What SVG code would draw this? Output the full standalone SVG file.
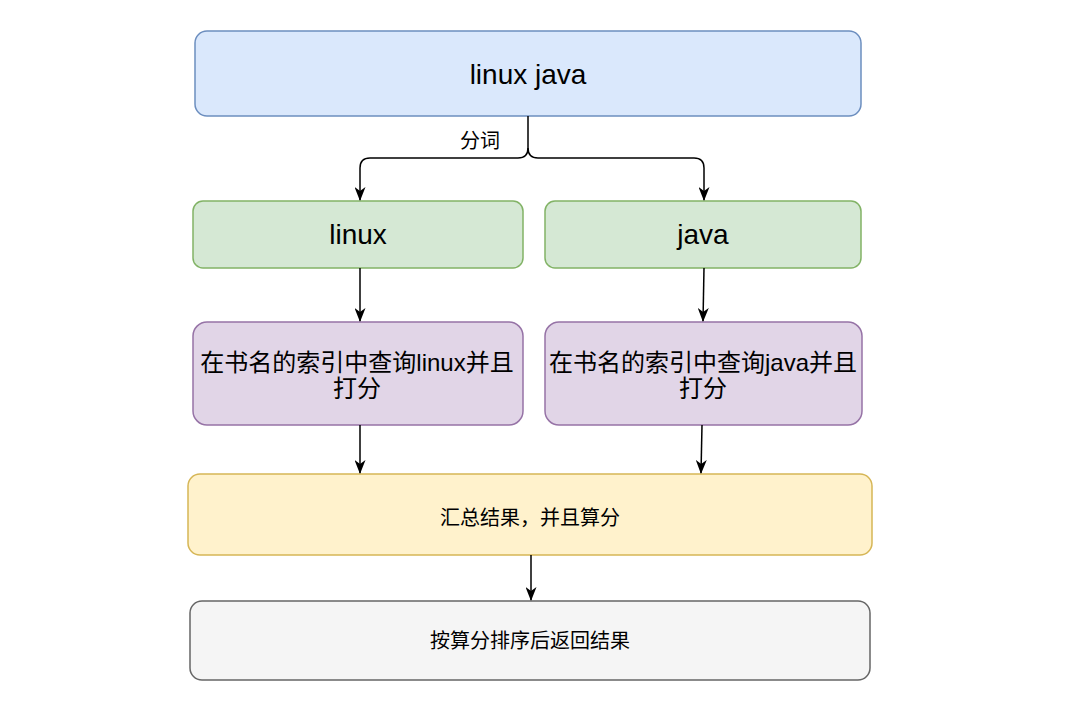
<svg xmlns="http://www.w3.org/2000/svg" width="1087" height="708" viewBox="0 0 1087 708">
<style>
text{font-family:"Liberation Sans","Noto Sans CJK SC",sans-serif;fill:#000;text-anchor:middle;dominant-baseline:central}
.edge{fill:none;stroke:#000;stroke-width:1.5}
.big{font-size:28px}
.mid{font-size:24px}
.sm{font-size:20px}
</style>
<defs>
<marker id="arr" viewBox="0 0 14 11" refX="13" refY="5.5" markerWidth="14" markerHeight="11" markerUnits="userSpaceOnUse" orient="auto">
<path d="M0,0 L14,5.5 L0,11 L4,5.5 Z" fill="#000"/>
</marker>
</defs>
<rect width="1087" height="708" fill="#fff"/>
<g id="n-query">
<rect x="195" y="31" width="666" height="85" rx="12" fill="#dae8fc" stroke="#6c8ebf" stroke-width="1.5"/>
<text class="big" x="528" y="74">linux java</text>
</g>
<g id="n-linux">
<rect x="193" y="201" width="330" height="67" rx="10" fill="#d5e8d4" stroke="#82b366" stroke-width="1.5"/>
<text class="big" x="358" y="234">linux</text>
</g>
<g id="n-java">
<rect x="545" y="201" width="316" height="67" rx="10" fill="#d5e8d4" stroke="#82b366" stroke-width="1.5"/>
<text class="big" x="703" y="234">java</text>
</g>
<g id="n-search-linux">
<rect x="193" y="322" width="330" height="103" rx="14" fill="#e1d5e7" stroke="#9673a6" stroke-width="1.5"/>
<text class="mid" x="357" y="362">在书名的索引中查询linux并且</text>
<text class="mid" x="357" y="388">打分</text>
</g>
<g id="n-search-java">
<rect x="545" y="322" width="317" height="103" rx="14" fill="#e1d5e7" stroke="#9673a6" stroke-width="1.5"/>
<text class="mid" x="703" y="362">在书名的索引中查询java并且</text>
<text class="mid" x="703" y="388">打分</text>
</g>
<g id="n-merge">
<rect x="188" y="474" width="684" height="81" rx="12" fill="#fff2cc" stroke="#d6b656" stroke-width="1.5"/>
<text class="sm" x="530" y="518">汇总结果，并且算分</text>
</g>
<g id="n-sort">
<rect x="190" y="601" width="680" height="79" rx="12" fill="#f5f5f5" stroke="#666666" stroke-width="1.5"/>
<text class="sm" x="530" y="641">按算分排序后返回结果</text>
</g>
<g id="connectors">
<path class="edge" d="M528,116 L528,148 Q528,158 518,158 L370,158 Q360,158 360,168 L360,200" marker-end="url(#arr)"/>
<path class="edge" d="M528,148 Q528,158 538,158 L694,158 Q704,158 704,168 L704,200" marker-end="url(#arr)"/>
<text class="sm" x="480" y="141">分词</text>
<path class="edge" d="M360,268 L360,321" marker-end="url(#arr)"/>
<path class="edge" d="M704,268 L703,321" marker-end="url(#arr)"/>
<path class="edge" d="M360,425 L360,473" marker-end="url(#arr)"/>
<path class="edge" d="M702,425 L701,473" marker-end="url(#arr)"/>
<path class="edge" d="M531,555 L531,600" marker-end="url(#arr)"/>
</g>
</svg>
